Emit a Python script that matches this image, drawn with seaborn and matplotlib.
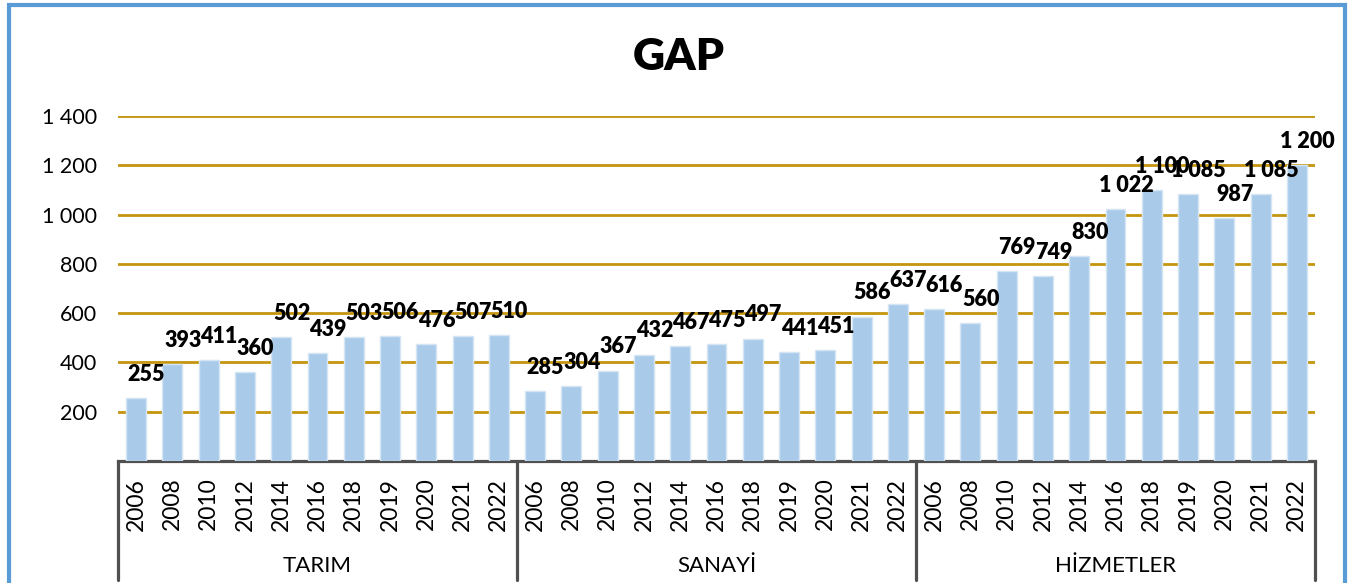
import matplotlib
matplotlib.use("Agg")
import matplotlib.pyplot as plt
import matplotlib.transforms as mtransforms
from matplotlib.lines import Line2D
import seaborn as sns
import pandas as pd

# ---- data ----
groups = ["TARIM", "SANAYİ", "HİZMETLER"]
years = ["2006", "2008", "2010", "2012", "2014", "2016", "2018", "2019", "2020", "2021", "2022"]
tarim = [255, 393, 411, 360, 502, 439, 503, 506, 476, 507, 510]
sanayi = [285, 304, 367, 432, 467, 475, 497, 441, 451, 586, 637]
hizmetler = [616, 560, 769, 749, 830, 1022, 1100, 1085, 987, 1085, 1200]
yticks = [200, 400, 600, 800, 1000, 1200, 1400]
title = "GAP"

series = [tarim, sanayi, hizmetler]
rows = []
for g, vals in zip(groups, series):
    for y, v in zip(years, vals):
        rows.append({"key": f"{g}-{y}", "group": g, "year": y, "value": v})
df = pd.DataFrame(rows)

# ---- style ----
sns.set_theme(style="white")
plt.rcParams["font.family"] = ["Lato", "DejaVu Sans"]

W, H = 1357, 583
fig = plt.figure(figsize=(W / 100, H / 100), dpi=100)
ax_left, ax_right, ax_top, ax_bot = 118, 1315, 116, 461
ax = fig.add_axes([ax_left / W, 1 - ax_bot / H, (ax_right - ax_left) / W, (ax_bot - ax_top) / H])

bar_color = "#A9CBE9"
sns.barplot(data=df, x="key", y="value", order=list(df["key"]), color=bar_color,
            width=0.55, edgecolor="#D5E5F4", linewidth=1, saturation=1, ax=ax, zorder=3)

grid_color = "#C4950E"
ax.set_ylim(0, 1400)
ax.set_xlim(-0.5, len(df) - 0.5)
ax.set_yticks(yticks)
ax.set_yticklabels([f"{t:,}".replace(",", " ") for t in yticks], fontsize=15.5, color="black")
ax.yaxis.grid(True, color=grid_color, linewidth=2, zorder=1)
ax.set_axisbelow(True)
ax.set_xticks(range(len(df)))
ax.set_xticklabels(df["year"], rotation=90, fontsize=16.5, color="black")
ax.tick_params(axis="x", length=0, pad=12)
ax.tick_params(axis="y", length=0, pad=15)
ax.set_xlabel("")
ax.set_ylabel("")
for s in ["left", "top", "right"]:
    ax.spines[s].set_visible(False)
ax.spines["bottom"].set_color("#505050")
ax.spines["bottom"].set_linewidth(2.3)

# data labels
for i, v in enumerate(df["value"]):
    ax.annotate(f"{v:,}".replace(",", " "), (i, v), xytext=(7.5, 17),
                textcoords="offset points", ha="center", va="center",
                fontsize=15.5, fontweight="heavy", color="black", annotation_clip=False, zorder=5)

# group separators and labels
trans = mtransforms.blended_transform_factory(ax.transData, ax.transAxes)
n = len(years)
ylow = (ax_bot - 580) / (ax_bot - ax_top)
for k in range(len(groups) + 1):
    xb = k * n - 0.5
    ax.add_line(Line2D([xb, xb], [0, ylow], transform=trans, color="#505050",
                       linewidth=2.3, clip_on=False))
ylab = (ax_bot - 566) / (ax_bot - ax_top)
for k, g in enumerate(groups):
    ax.text(k * n + (n - 1) / 2, ylab, g, transform=trans, ha="center", va="center",
            fontsize=16, color="black")

# title
fig.text(0.5, 1 - 57 / H, title, ha="center", va="center", fontsize=32,
         fontweight="heavy", color="black")

# outer blue frame
bx0, bx1, by = 9 / W, 1345 / W, 1 - 4.5 / H
fig.add_artist(Line2D([bx0, bx0, bx1, bx1], [-0.05, by, by, -0.05], transform=fig.transFigure,
                      color="#5B9BD5", linewidth=3, solid_joinstyle="miter"))

fig.savefig("out.png", dpi=100)
